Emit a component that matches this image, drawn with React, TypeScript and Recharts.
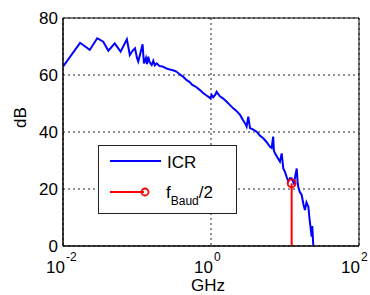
import React from 'react';
import { LineChart, Line, XAxis, YAxis, CartesianGrid, ReferenceArea, Legend } from 'recharts';

const icrGHz = [
  0.01, 0.017, 0.023, 0.029, 0.035, 0.041, 0.05, 0.06, 0.073, 0.08, 0.087, 0.094, 0.1, 0.104,
  0.112, 0.119, 0.124, 0.132, 0.136, 0.142, 0.148, 0.158, 0.166, 0.174, 0.185, 0.2, 0.22, 0.25,
  0.28, 0.32, 0.34, 0.38, 0.42, 0.47, 0.51, 0.56, 0.63, 0.71, 0.79, 0.87, 0.92, 0.98, 1.02, 1.07,
  1.15, 1.19, 1.32, 1.45, 1.63, 1.78, 2.0, 2.19, 2.47, 2.69, 2.95, 3.03, 3.19, 3.37, 3.63, 4.14,
  4.57, 5.09, 5.62, 6.27, 6.6, 6.92, 7.08, 7.33, 7.94, 8.55, 9.02, 9.48, 10.0, 10.5, 11.1, 11.7,
  12.3, 13.2, 14.4, 14.8, 15.1, 15.8, 16.8, 17.8, 18.6, 19.5, 20.7, 21.4, 21.8, 22.9, 23.4, 24.0,
  25.1,
];
const icrDb = [
  62.9, 71.3, 68.8, 72.9, 71.7, 68.5, 71.1, 68.2, 72.5, 67.0, 68.5, 69.4, 66.0, 64.7,
  68.0, 70.8, 64.1, 66.0, 63.8, 66.4, 64.5, 63.5, 65.0, 63.4, 64.1, 63.2, 63.0, 62.3,
  61.9, 61.5, 61.2, 60.2, 59.4, 58.2, 57.6, 56.5, 55.8, 54.7, 53.6, 52.8, 52.4, 51.8, 53.0, 52.2,
  53.2, 54.1, 52.5, 51.8, 50.6, 49.6, 48.3, 47.5, 46.0, 44.3, 42.6, 41.9, 45.4, 41.3, 41.0, 40.1,
  38.8, 37.8, 36.5, 34.8, 34.4, 38.4, 33.5, 32.5, 31.0, 29.6, 32.5, 27.2, 26.0, 24.3, 22.6, 23.8,
  23.7, 22.0, 27.2, 22.5, 20.8, 19.0, 17.9, 14.5, 12.6, 15.3, 13.8, 9.8, 8.0, 3.3, 7.0, 1.0,
  -3.0,
];

const baudGHz = [12.3, 12.3];
const baudDb = [0, 22];

const xTicks = [0.01, 1, 100];
const yTicks = [0, 20, 40, 60, 80];

const icrData = icrGHz.map((g, i) => ({ ghz: g, db: icrDb[i] }));
const baudData = baudGHz.map((g, i) => ({ ghz: g, db: baudDb[i] }));

const FONT = 'Liberation Sans, Arial, sans-serif';

const XTick = (props: any) => {
  const { x, y, payload } = props;
  const exp = Math.round(Math.log10(payload.value));
  return (
    <g>
      <text x={x + 2} y={y + 27} textAnchor="end" fontSize={17} fontFamily={FONT} fill="#000">10</text>
      <text x={x + 3} y={y + 15} textAnchor="start" fontSize={12} fontFamily={FONT} fill="#000">{exp}</text>
    </g>
  );
};

const BaudDot = (props: any) => {
  const { cx, cy, index } = props;
  if (index !== 1) return <g key={`d${index}`} />;
  return <circle key={`d${index}`} cx={cx} cy={cy} r={4} fill="none" stroke="#ff0000" strokeWidth={1.8} />;
};

const LegendBox = () => (
  <svg width={140} height={70} style={{ display: 'block' }}>
    <rect x={0.5} y={0.5} width={138} height={68} fill="#fff" stroke="#222" strokeWidth={1} />
    <line x1={12} y1={16} x2={63} y2={16} stroke="#0000ff" strokeWidth={2} />
    <text x={69} y={23} fontSize={17} fontFamily={FONT} fill="#000">ICR</text>
    <line x1={12} y1={47} x2={46} y2={47} stroke="#ff0000" strokeWidth={2} />
    <circle cx={47} cy={47} r={3.5} fill="none" stroke="#ff0000" strokeWidth={1.8} />
    <text x={68} y={53} fontSize={17} fontFamily={FONT} fill="#000">
      f
      <tspan fontSize={12} dy={7}>Baud</tspan>
      <tspan fontSize={17} dy={-7}>/2</tspan>
    </text>
  </svg>
);

export default function App() {
  return (
    <div style={{ position: 'absolute', left: 0, top: 0, width: 370, height: 295, background: '#fff' }}>
      <LineChart width={370} height={295} margin={{ top: 18, right: 11, bottom: 0, left: 0 }}>
        <CartesianGrid stroke="#222" strokeDasharray="2 3" />
        <XAxis
          dataKey="ghz"
          type="number"
          scale="log"
          domain={[0.01, 100]}
          ticks={xTicks}
          allowDataOverflow
          height={49}
          tickLine={false}
          tickSize={0}
          tickMargin={0}
          axisLine={{ stroke: '#000' }}
          tick={<XTick />}
          label={{ value: 'GHz', position: 'insideBottom', offset: 4, fontSize: 17, fontFamily: FONT, fill: '#000', dx: -3 }}
        />
        <YAxis
          dataKey="db"
          type="number"
          domain={[0, 80]}
          ticks={yTicks}
          allowDataOverflow
          width={63}
          tickLine={false}
          tickSize={0}
          tickMargin={5}
          axisLine={{ stroke: '#000' }}
          tick={{ fontSize: 17, fontFamily: FONT, fill: '#000' }}
          label={{ value: 'dB', angle: -90, position: 'insideLeft', offset: 20, dy: -4, fontSize: 17, fontFamily: FONT, fill: '#000' }}
        />
        <ReferenceArea x1={0.01} x2={100} y1={0} y2={80} fill="none" stroke="#000" strokeWidth={1} ifOverflow="visible" />
        <Line data={icrData} dataKey="db" stroke="#0000ff" strokeWidth={2} dot={false} isAnimationActive={false} />
        <Line data={baudData} dataKey="db" stroke="#ff0000" strokeWidth={2} dot={<BaudDot />} isAnimationActive={false} />
        <Legend
          layout="horizontal"
          verticalAlign="middle"
          align="center"
          content={() => <LegendBox />}
          wrapperStyle={{ position: 'absolute', left: 98, top: 145, width: 140, height: 70 }}
        />
      </LineChart>
    </div>
  );
}
